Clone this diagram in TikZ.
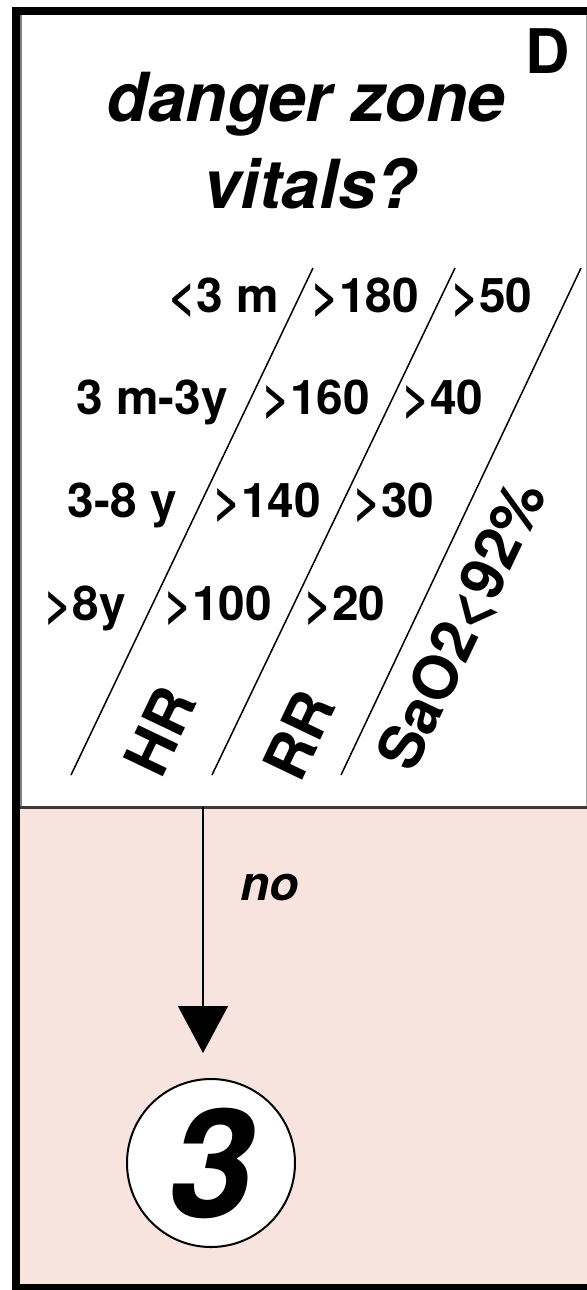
\documentclass[tikz,border=0pt]{standalone}
\usepackage{fontspec}
\setmainfont{TeX Gyre Heros}
\usepackage{xcolor}
\usepackage{tikz}
\definecolor{zonepink}{RGB}{247,228,223}
\definecolor{sepgray}{RGB}{60,60,60}
\tikzset{
  rowtxt/.style={font=\bfseries\fontsize{27.2}{30}\selectfont, inner sep=0pt},
  headtxt/.style={font=\bfseries\itshape\fontsize{38.5}{42}\selectfont, inner sep=0pt},
  axistxt/.style={font=\bfseries\fontsize{34.5}{38}\selectfont, inner sep=0pt, rotate=64.5},
  flow/.style={-{Triangle[width=10mm, length=9.4mm]}, line width=0.3mm}
}
\usetikzlibrary{positioning, arrows.meta}

\begin{document}
\begin{tikzpicture}[x=0.2mm, y=-0.2mm,
    diag/.style={line width=0.3mm},
    exitnode/.style={circle, draw, line width=0.4mm, fill=white,
                     minimum size=33.6mm, inner sep=0pt,
                     font=\bfseries\itshape\fontsize{86}{88}\selectfont}
]
\useasboundingbox (0,0) rectangle (587,1290);
% frame and the two panels
\fill[black] (12,7) rectangle (587,1290);
\fill[white] (20,15) rectangle (587,807);
\fill[zonepink] (20,807) rectangle (587,1284);
\draw[gray, line width=0.3mm] (21,15) -- (21,807);
\draw[gray!70, line width=0.2mm] (586,15) -- (586,807);
\draw[sepgray, line width=0.6mm] (20,807) -- (587,807);
% title
\node[font=\bfseries\fontsize{35}{40}\selectfont, inner sep=0pt, anchor=base] (panel) at (548,73) {D};
\node[headtxt, anchor=base] (danger) at (306,121) {danger zone};
\node[headtxt, anchor=base] (vitals) at (310,208) {vitals?};
% diagonal rules
\draw[diag] (313,268) -- (71,775);
\draw[diag] (455,268) -- (212,775);
\draw[diag] (581,268) -- (341,775);
% age rows
\foreach \age/\hr/\rr [count=\i from 0] in {<3 m/>180/>50, 3 m-3y/>160/>40, 3-8 y/>140/>30, >8y/>100/>20} {
  \node[rowtxt, anchor=base east] (age\i) at ({279-51*\i},{312+102.7*\i}) {\age};
  \node[rowtxt, anchor=base west] (hr\i) at ({311-49*\i},{312+102.7*\i}) {\hr};
  \node[rowtxt, anchor=base west] (rr\i) at ({451-49*\i},{312+102.7*\i}) {\rr};
}
\node[axistxt] (hrlab) at (160,731) {HR};
\node[axistxt] (rrlab) at (299,735) {RR};
\node[axistxt] (satlab) at (463,626) {SaO2<92\%};
% way out
\node[exitnode] (exit3) at (211,1163) {3};
\coordinate (split) at (203,807);
\draw[flow, shorten >=5mm] (split) -- (split |- exit3.north);
\node[font=\bfseries\itshape\fontsize{27.3}{30}\selectfont, inner sep=0pt, anchor=base west] (nolab) at (240,900) {no};
\end{tikzpicture}
\end{document}
